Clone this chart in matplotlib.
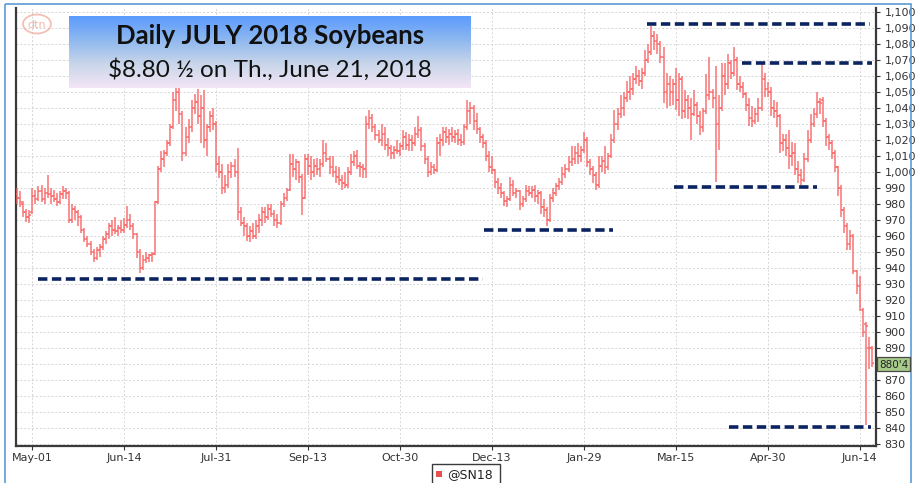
import numpy as np
import matplotlib
matplotlib.use("Agg")
import matplotlib.pyplot as plt
from matplotlib.colors import LinearSegmentedColormap
from matplotlib.patches import Rectangle, Ellipse

# ---- daily OHLC for the July 2018 soybean contract (cents/bu) ----
opens = [
    986, 984, 980, 975, 972, 975, 985, 983, 988, 983,
    987, 986, 985, 983, 981, 986, 988, 987, 970, 977,
    975, 972, 964, 958, 955, 950, 946, 951, 953, 958,
    961, 966, 964, 963, 965, 964, 967, 970, 966, 961,
    950, 940, 945, 946, 948, 949, 981, 1002, 1008, 1012,
    1018, 1028, 1045, 1050, 1036, 1012, 1022, 1028, 1040, 1044,
    1035, 1040, 1020, 1028, 1035, 1030, 1005, 1000, 990, 992,
    1000, 1004, 1000, 975, 968, 966, 960, 963, 960, 966,
    970, 975, 972, 977, 974, 970, 968, 980, 984, 989,
    1005, 1002, 1006, 997, 984, 1008, 1004, 1000, 1004, 1002,
    1005, 1012, 1008, 1003, 1000, 997, 995, 993, 992, 1000,
    1006, 1010, 1004, 1003, 1002, 1030, 1034, 1028, 1023, 1020,
    1024, 1017, 1015, 1012, 1014, 1013, 1016, 1022, 1017, 1020,
    1018, 1024, 1026, 1016, 1008, 1000, 1003, 1001, 1018, 1020,
    1025, 1022, 1024, 1022, 1024, 1020, 1019, 1028, 1038, 1040,
    1032, 1027, 1022, 1018, 1010, 1003, 1001, 994, 990, 987,
    982, 983, 992, 987, 988, 980, 983, 988, 987, 989,
    985, 987, 978, 976, 970, 984, 987, 991, 994, 999,
    1002, 1006, 1008, 1012, 1010, 1014, 1020, 1006, 1002, 998,
    992, 1004, 1007, 1003, 1010, 1020, 1030, 1036, 1040, 1046,
    1050, 1052, 1058, 1060, 1057, 1062, 1070, 1075, 1085, 1082,
    1080, 1072, 1050, 1055, 1050, 1055, 1045, 1058, 1038, 1045,
    1040, 1036, 1042, 1035, 1028, 1038, 1048, 1050, 1046, 1030,
    1040, 1060, 1055, 1068, 1062, 1070, 1055, 1053, 1049, 1042,
    1034, 1032, 1036, 1040, 1058, 1052, 1050, 1040, 1038, 1035,
    1018, 1020, 1015, 1010, 1012, 1002, 998, 995, 1008, 1020,
    1030, 1036, 1044, 1045, 1032, 1022, 1018, 1012, 1003, 990,
    976, 966, 955, 960, 938, 929, 914, 905, 890, 890,
]
highs = [
    990, 988, 982, 977, 976, 990, 989, 991, 992, 990,
    998, 990, 989, 987, 988, 991, 990, 988, 980, 979,
    976, 973, 965, 960, 957, 952, 953, 955, 960, 963,
    968, 970, 972, 967, 970, 971, 979, 974, 968, 962,
    952, 948, 950, 949, 950, 982, 1004, 1013, 1014, 1020,
    1030, 1050, 1053, 1053, 1038, 1028, 1033, 1045, 1049, 1052,
    1048, 1051, 1030, 1038, 1040, 1032, 1010, 1005, 998, 1005,
    1006, 1008, 1015, 978, 972, 968, 966, 968, 970, 974,
    978, 978, 980, 980, 976, 974, 982, 987, 990, 1011,
    1011, 1008, 1007, 999, 1011, 1011, 1010, 1008, 1009, 1008,
    1020, 1018, 1010, 1010, 1004, 1003, 998, 1000, 1003, 1011,
    1013, 1014, 1006, 1005, 1035, 1039, 1036, 1030, 1026, 1030,
    1028, 1021, 1017, 1016, 1020, 1018, 1026, 1025, 1024, 1023,
    1028, 1035, 1028, 1018, 1010, 1006, 1005, 1022, 1024, 1028,
    1028, 1027, 1028, 1026, 1027, 1024, 1030, 1045, 1044, 1042,
    1037, 1028, 1024, 1020, 1013, 1010, 1002, 996, 993, 988,
    985, 997, 995, 990, 989, 985, 992, 991, 991, 992,
    989, 988, 983, 978, 986, 990, 993, 996, 1003, 1005,
    1010, 1016, 1016, 1018, 1016, 1025, 1022, 1008, 1004, 1000,
    1010, 1010, 1016, 1012, 1024, 1039, 1040, 1048, 1050, 1057,
    1060, 1062, 1066, 1064, 1065, 1076, 1080, 1091, 1088, 1086,
    1082, 1078, 1062, 1060, 1058, 1065, 1062, 1060, 1051, 1048,
    1046, 1051, 1044, 1038, 1040, 1061, 1072, 1052, 1066, 1048,
    1068, 1068, 1074, 1070, 1078, 1072, 1060, 1056, 1050, 1046,
    1041, 1040, 1046, 1068, 1062, 1056, 1053, 1045, 1044, 1036,
    1024, 1024, 1026, 1019, 1018, 1007, 1002, 1012, 1026, 1036,
    1040, 1050, 1046, 1047, 1034, 1024, 1020, 1014, 1004, 992,
    978, 968, 964, 961, 939, 935, 915, 906, 897, 891,
]
lows = [
    980, 978, 972, 969, 968, 974, 980, 982, 981, 980,
    984, 980, 981, 979, 980, 983, 983, 968, 968, 970,
    966, 962, 956, 953, 948, 944, 945, 947, 951, 955,
    958, 960, 961, 960, 962, 962, 965, 964, 958, 946,
    937, 939, 943, 944, 944, 948, 980, 1000, 1003, 1010,
    1016, 1027, 1038, 1030, 1007, 1010, 1018, 1025, 1036, 1030,
    1018, 1015, 1010, 1025, 1026, 1000, 996, 986, 987, 990,
    996, 997, 970, 966, 960, 957, 956, 958, 958, 962,
    966, 968, 970, 972, 966, 965, 967, 978, 982, 988,
    997, 995, 993, 973, 983, 998, 995, 997, 998, 997,
    1003, 1006, 999, 997, 993, 992, 989, 990, 990, 998,
    1004, 1002, 997, 996, 996, 1027, 1025, 1020, 1018, 1016,
    1014, 1010, 1008, 1008, 1011, 1010, 1014, 1014, 1013, 1013,
    1016, 1021, 1013, 1005, 997, 998, 999, 1000, 1010, 1016,
    1018, 1017, 1019, 1018, 1017, 1016, 1017, 1026, 1030, 1026,
    1024, 1018, 1015, 1007, 1000, 999, 990, 986, 984, 979,
    978, 982, 985, 984, 976, 978, 981, 985, 984, 981,
    980, 974, 972, 966, 969, 981, 985, 989, 992, 996,
    1000, 1004, 1005, 1005, 1006, 1012, 1003, 998, 993, 989,
    990, 1000, 999, 1001, 1009, 1018, 1026, 1034, 1035, 1044,
    1045, 1048, 1055, 1054, 1052, 1060, 1068, 1073, 1076, 1074,
    1068, 1043, 1040, 1041, 1042, 1039, 1035, 1033, 1034, 1033,
    1020, 1035, 1030, 1023, 1025, 1036, 1045, 1040, 994, 1014,
    1038, 1048, 1052, 1058, 1060, 1051, 1050, 1046, 1038, 1029,
    1028, 1030, 1031, 1038, 1047, 1047, 1035, 1034, 1028, 1012,
    1013, 1010, 1002, 1004, 998, 993, 992, 994, 1006, 1018,
    1028, 1034, 1036, 1028, 1016, 1014, 1008, 1000, 985, 972,
    962, 951, 951, 936, 924, 913, 897, 842, 877, 878,
]
closes = [
    984, 981, 975, 972, 973, 985, 983, 988, 983, 987,
    986, 985, 983, 981, 986, 988, 987, 970, 977, 975,
    972, 964, 958, 955, 950, 946, 951, 953, 958, 961,
    966, 964, 963, 965, 964, 967, 970, 966, 961, 950,
    940, 945, 946, 948, 949, 981, 1002, 1008, 1012, 1018,
    1028, 1045, 1050, 1036, 1012, 1022, 1028, 1040, 1044, 1035,
    1040, 1020, 1028, 1035, 1030, 1005, 1000, 990, 992, 1000,
    1004, 1000, 975, 968, 966, 960, 963, 960, 966, 970,
    975, 972, 977, 974, 970, 968, 980, 984, 989, 1005,
    1002, 1006, 997, 984, 1008, 1004, 1000, 1004, 1002, 1005,
    1012, 1008, 1003, 1000, 997, 995, 993, 992, 1000, 1006,
    1010, 1004, 1003, 1002, 1030, 1034, 1028, 1023, 1020, 1024,
    1017, 1015, 1012, 1014, 1013, 1016, 1022, 1017, 1020, 1018,
    1024, 1026, 1016, 1008, 1000, 1003, 1001, 1018, 1020, 1025,
    1022, 1024, 1022, 1024, 1020, 1019, 1028, 1038, 1040, 1032,
    1027, 1022, 1018, 1010, 1003, 1001, 994, 990, 987, 982,
    983, 992, 987, 988, 980, 983, 988, 987, 989, 985,
    987, 978, 976, 970, 984, 987, 991, 994, 999, 1002,
    1006, 1008, 1012, 1010, 1014, 1020, 1006, 1002, 998, 992,
    1004, 1007, 1003, 1010, 1020, 1030, 1036, 1040, 1046, 1050,
    1052, 1058, 1060, 1057, 1062, 1070, 1075, 1085, 1082, 1080,
    1072, 1050, 1055, 1050, 1055, 1045, 1058, 1038, 1045, 1040,
    1036, 1042, 1035, 1028, 1038, 1048, 1050, 1046, 1030, 1040,
    1060, 1055, 1068, 1062, 1070, 1055, 1053, 1049, 1042, 1034,
    1032, 1036, 1040, 1058, 1052, 1050, 1040, 1038, 1035, 1018,
    1020, 1015, 1010, 1012, 1002, 998, 995, 1008, 1020, 1030,
    1036, 1044, 1043, 1032, 1022, 1018, 1012, 1003, 990, 976,
    966, 955, 960, 938, 929, 916, 900, 904, 890, 880.5,
]

# x-axis date labels, one every 30 sessions starting at session 5
date_labels = ["May-01", "Jun-14", "Jul-31", "Sep-13", "Oct-30",
               "Dec-13", "Jan-29", "Mar-15", "Apr-30", "Jun-14"]
first_label_bar = 5
label_step = 30

# support / resistance lines: (price, first bar, last bar)
sr_prices = [933, 964, 1092.5, 1068.3, 990.4, 840.8]
sr_start = [7.0, 152.5, 205.7, 236.5, 214.4, 232.5]
sr_end = [152.1, 194.6, 278.4, 279.0, 261.0, 278.6]

symbol = "@SN18"
last_price = 880
last_price_label = "880'4"
title_line1 = "Daily JULY 2018 Soybeans"
title_line2 = "$8.80 \u00bd on Th., June 21, 2018"

# ---------------------------------------------------------------
W, H = 915, 483
fig = plt.figure(figsize=(W / 100, H / 100), dpi=100)
fig.patch.set_facecolor("white")

ax = fig.add_axes([16 / W, 37 / H, 860 / W, 438 / H])
n = len(closes)
x = np.arange(n)
o = np.array(opens, float)
c = np.array(closes, float)
hi = np.maximum.reduce([np.array(highs, float), o, c])
lo = np.minimum.reduce([np.array(lows, float), o, c])

bar_col = "#f96565"
ax.vlines(x, lo, hi, color=bar_col, lw=1.25, alpha=0.8, zorder=3)
ax.hlines(o, x - 0.6, x, color=bar_col, lw=1.1, alpha=0.9, zorder=3)
ax.hlines(c, x, x + 0.6, color=bar_col, lw=1.1, alpha=0.9, zorder=3)

for p, s, e in zip(sr_prices, sr_start, sr_end):
    ln, = ax.plot([s, e], [p, p], color="#0b2461", lw=2.6, zorder=4,
                  solid_capstyle="butt")
    ln.set_dashes((2.6, 1.25))
    ln.set_dash_capstyle("butt")

ax.set_xlim(-0.33, 280.35)
ax.set_ylim(828.75, 1102.5)

ax.yaxis.tick_right()
yt = np.arange(830, 1101, 10)
ax.set_yticks(yt)
# the last-price tag sits where the 880 label would be
ax.set_yticklabels(["" if v == last_price else f"{v:,}" for v in yt])
xt = [first_label_bar + label_step * k for k in range(len(date_labels))]
ax.set_xticks(xt)
ax.set_xticklabels(date_labels)
ax.tick_params(axis="both", labelsize=8, colors="#333333", length=3,
               width=0.8, pad=2)
ax.tick_params(axis="y", pad=3)

ax.grid(True, color="#d6d6d6", linestyle=(0, (2, 2)), linewidth=0.7, zorder=0)
ax.set_axisbelow(True)
for side in ["left", "bottom", "right"]:
    ax.spines[side].set_color("#3a3a3a")
    ax.spines[side].set_linewidth(1.6)
ax.spines["top"].set_visible(False)

# ---- overlay in pixel coordinates for the decorations ----
ov = fig.add_axes([0, 0, 1, 1])
ov.set_xlim(0, W)
ov.set_ylim(H, 0)
ov.axis("off")
ov.patch.set_alpha(0)

# outer frame
ov.add_patch(Rectangle((5, 4), 906, 495, fill=False, ec="#5b9bd5", lw=1.2))

# logo
ov.add_patch(Ellipse((37, 24), 28, 19, fill=False, ec="#f2a594", lw=1.3,
                     alpha=0.7))
ov.text(37, 24.5, "dtn", ha="center", va="center", fontsize=8,
        color="#f2a594", alpha=0.8)

# title box with vertical gradient
grad_cmap = LinearSegmentedColormap.from_list(
    "titlegrad", ["#5a9bfd", "#8fb8ef", "#c9d6ea", "#f4e6f6"])
grad = np.linspace(0, 1, 256).reshape(-1, 1)
ov.imshow(grad, cmap=grad_cmap, aspect="auto", extent=[69, 471, 88, 16],
          zorder=5)
ov.text(270.5, 36.5, title_line1, ha="center", va="center", fontsize=18.5,
        fontweight="bold", family="Lato", color="#111111", zorder=6)
ov.text(270, 70, title_line2, ha="center", va="center", fontsize=17.5,
        family="Lato", color="#111111", zorder=6)

# last price tag
ov.add_patch(Rectangle((877, 357), 33, 14, fc="#a6ca8a", ec="#4a4a4a",
                       lw=0.9, zorder=6))
ov.text(893.5, 364.5, last_price_label, ha="center", va="center",
        fontsize=7.5, color="#222222", zorder=7)

# legend
ov.add_patch(Rectangle((432, 464), 68, 25, fc="white", ec="#3a3a3a",
                       lw=1.0, zorder=6))
ov.add_patch(Rectangle((436, 471), 6, 6, fc="#e8504f", ec="none", zorder=7))
ov.text(447, 474.5, symbol, ha="left", va="center", fontsize=9,
        color="#222222", zorder=7)

fig.savefig("out.png", dpi=100)
